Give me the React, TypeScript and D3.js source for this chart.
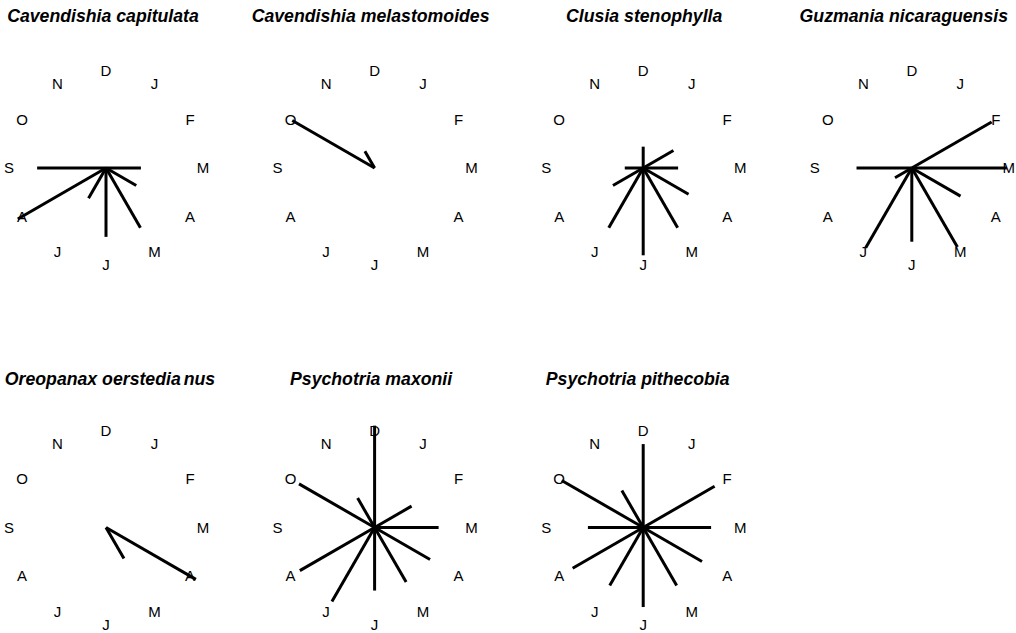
import { useEffect, useRef } from "react";
import * as d3 from "d3";

// month labels, clockwise starting right after the top (D sits at the top)
const months = ["J", "F", "M", "A", "M", "J", "J", "A", "S", "O", "N", "D"];

const species = [
    "Cavendishia capitulata",
    "Cavendishia melastomoides",
    "Clusia stenophylla",
    "Guzmania nicaraguensis",
    "Oreopanax oerstedianus",
    "Psychotria maxonii",
    "Psychotria pithecobia",
];

// relative length of each month's line (1 = radius of the month labels)
const cavCapitulata = [0, 0, 0.36, 0.36, 0.71, 0.71, 0.36, 1.05, 0.71, 0, 0, 0];
const cavMelastomoides = [0, 0, 0, 0, 0, 0, 0, 0, 0, 0.98, 0.2, 0];
const clusiaSteno = [0, 0.36, 0.36, 0.54, 0.71, 0.9, 0.71, 0.36, 0.19, 0, 0, 0.22];
const guzmaniaNic = [0, 0.95, 0.98, 0.58, 0.94, 0.76, 0.95, 0.2, 0.57, 0, 0, 0];
const oreopanaxOer = [0, 0, 0, 1.07, 0.37, 0, 0, 0, 0, 0, 0, 0];
const psychMaxonii = [0, 0.44, 0.66, 0.66, 0.65, 0.65, 0.88, 0.89, 0, 0.9, 0.35, 1.05];
const psychPithecobia = [0, 0.85, 0.7, 0.7, 0.69, 0.82, 0.69, 0.84, 0.57, 0.97, 0.44, 0.86];

const seriesValues = [
    cavCapitulata,
    cavMelastomoides,
    clusiaSteno,
    guzmaniaNic,
    oreopanaxOer,
    psychMaxonii,
    psychPithecobia,
];

export default function App() {
    const svgRef = useRef<SVGSVGElement>(null);

    useEffect(() => {
        const width = 1016;
        const height = 633;
        const labelR = 97;
        // titles are not quite centred over their circles
        const titleShift = [-3, -4, 1, -8, 4, -3.5, -5.5];

        const svg = d3.select(svgRef.current);
        svg.selectAll("*").remove();

        const col = d3.scaleLinear().domain([0, 3]).range([106, 911.8]);
        const row = d3.scalePoint<number>().domain([0, 1]).range([168, 527.5]);
        const r = d3.scaleLinear().domain([0, 1]).range([0, labelR]);
        // month index -> angle in radians, clockwise from the top
        const angle = d3
            .scaleLinear()
            .domain([0, 12])
            .range([Math.PI / 6, Math.PI / 6 + 2 * Math.PI]);

        species.forEach((name, k) => {
            const cx = col(k % 4);
            const cy = row(Math.floor(k / 4)) || 0;
            const g = svg.append("g").attr("transform", `translate(${cx},${cy})`);

            // title
            const title = g
                .append("text")
                .attr("x", titleShift[k])
                .attr("y", cy < 300 ? -146.3 : -142.5)
                .attr("text-anchor", "middle")
                .style("font-family", "Liberation Sans, Arial, sans-serif")
                .style("font-size", "17.7px")
                .style("font-weight", "bold")
                .style("font-style", "italic")
                .attr("fill", "#000");
            if (name === "Oreopanax oerstedianus") {
                title.append("tspan").text("Oreopanax oerstedia");
                title.append("tspan").attr("dx", 3).text("nus");
            } else {
                title.text(name);
            }

            // month labels
            g.selectAll("text.month")
                .data(months)
                .enter()
                .append("text")
                .attr("class", "month")
                .attr("x", (_d, i) => labelR * Math.sin(angle(i)))
                .attr("y", (_d, i) => -labelR * Math.cos(angle(i)))
                .attr("dy", "0.36em")
                .attr("text-anchor", "middle")
                .style("font-family", "Liberation Sans, Arial, sans-serif")
                .style("font-size", "15px")
                .attr("fill", "#000")
                .text((d) => d);

            // radial lines
            const vals = seriesValues[k];
            g.selectAll("line.ray")
                .data(vals.map((v, i) => ({ v, i })).filter((d) => d.v > 0))
                .enter()
                .append("line")
                .attr("class", "ray")
                .attr("x1", 0)
                .attr("y1", 0)
                .attr("x2", (d) => r(d.v) * Math.sin(angle(d.i)))
                .attr("y2", (d) => -r(d.v) * Math.cos(angle(d.i)))
                .attr("stroke", "#000")
                .attr("stroke-width", 3)
                .attr("stroke-linecap", "butt");
        });

        svg.attr("width", width).attr("height", height);
    }, []);

    return (
        <svg
            ref={svgRef}
            width={1016}
            height={633}
            style={{ position: "absolute", left: 0, top: 0, background: "#fff" }}
        />
    );
}
